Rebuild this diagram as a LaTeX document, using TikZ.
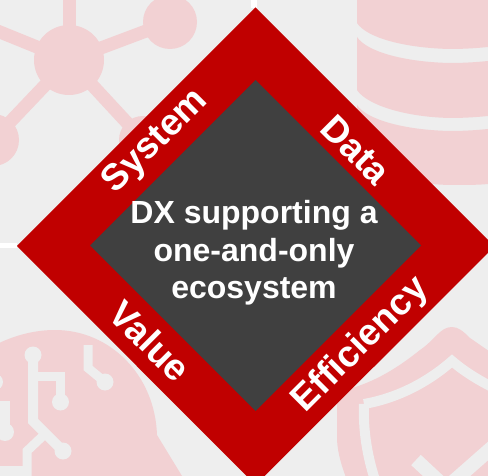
\documentclass[tikz,border=0pt]{standalone}
\usepackage{fontspec}
\setmainfont{Liberation Sans}
\definecolor{pagegray}{HTML}{EEEEEE}
\definecolor{iconpink}{HTML}{F2D1D3}
\definecolor{framered}{HTML}{C00000}
\definecolor{coregray}{HTML}{404040}
\begin{document}
\begin{tikzpicture}[x=1pt,y=-1pt,
  icon/.style={fill=iconpink},
  spoke/.style={draw=iconpink,line width=13pt},
  wire/.style={draw=pagegray,line width=9pt},
  pin/.style={fill=pagegray},
  side/.style={text=white,font=\bfseries\fontsize{37}{37}\selectfont,inner sep=0pt},
  core/.style={text=white,font=\bfseries\fontsize{32}{37.5}\selectfont,align=center,inner sep=0pt}]
\clip (0,0) rectangle (488,476);
\fill[pagegray] (0,0) rectangle (488,476);
% network
\draw[spoke] (69,0) -- (69,60);
\draw[spoke] (-5,30) -- (69,60);
\draw[spoke] (170,22) -- (69,60);
\draw[spoke] (-7,140) -- (69,60);
\draw[spoke] (143,140) -- (69,60);
\fill[icon] (69,60) circle (35);
\fill[icon] (170,22) circle (27);
\fill[icon] (-7,140) circle (26);
\fill[icon] (143,140) circle (24);
% database
\fill[icon] (357,0) -- (357,23) .. controls (367,38) and (405,48) .. (450,49) .. controls (465,49) and (478,48) .. (488,47) -- (488,0) -- cycle;
\fill[icon] (357,37) .. controls (367,52) and (405,62) .. (450,63) .. controls (465,63) and (478,62) .. (488,61) -- (488,116) .. controls (478,117) and (465,118) .. (450,118) .. controls (405,117) and (367,105) .. (357,90) -- cycle;
\fill[icon] (357,105) .. controls (367,120) and (405,130) .. (450,131) .. controls (465,131) and (478,130) .. (488,129) -- (488,184) .. controls (478,185) and (465,185) .. (450,185) .. controls (405,184) and (367,172) .. (357,158) -- cycle;
% head
\fill[icon] (-5,345) .. controls (15,335) and (35,330) .. (55,330) .. controls (110,330) and (155,375) .. (157,435) -- (182,476) -- (-5,476) -- cycle;
\draw[wire,line width=10pt] (33,355) -- (33,421) -- (63,451);
\draw[wire] (33,376) -- (60,376) -- (60,402);
\draw[wire] (46,433) -- (27,451) -- (27,476);
\draw[wire] (88,345) -- (88,368) -- (105,382);
\draw[wire] (-5,405) -- (5,405) -- (5,432);
\fill[pagegray] (-1,466) rectangle (27,477);
\fill[pin] (33,355) circle (8.5);
\fill[pin] (60.5,402) circle (8.5);
\fill[pin] (63,451) circle (8.5);
\fill[pin] (105,382) circle (8.5);
\fill[pin] (5,432) circle (9);
\fill[pin] (-5,382) circle (8);
% shield
\fill[icon] (452,327) .. controls (440,327) and (435,340) .. (420,350) .. controls (395,370) and (370,385) .. (337,392) -- (337,440) .. controls (338,455) and (342,467) .. (347,480) -- (496,480) -- (496,356) -- (470,338) .. controls (463,331) and (458,327) .. (452,327) -- cycle;
\draw[draw=pagegray,line width=10pt] (364,404) .. controls (398,398) and (428,382) .. (452,361) .. controls (465,372) and (478,380) .. (496,389);
\draw[draw=pagegray,line width=10pt] (364,404) .. controls (363,430) and (367,455) .. (375,480);
\draw[draw=pagegray,line width=14pt] (416,460) -- (446,488) -- (496,444);
% white ticks
\fill[white] (0,243) rectangle (17,248);
\fill[white] (251,0) rectangle (257,8);
% frame
\fill[framered] (255.5,7.5) -- (494.5,246.5) -- (255.5,485) -- (17,246) -- cycle;
\fill[coregray] (255.5,80) -- (421,245.5) -- (255.5,411) -- (90,245.5) -- cycle;
\node[core] (title) at (254,253) {DX supporting a\\one-and-only\\ecosystem};
\node[side,rotate=45] (system) at (156,142) {System};
\node[side,rotate=-45] (data) at (356,150) {Data};
\node[side,rotate=-45] (value) at (150,341) {Value};
\node[side,rotate=45] (efficiency) at (361,345) {Efficiency};
\end{tikzpicture}
\end{document}
